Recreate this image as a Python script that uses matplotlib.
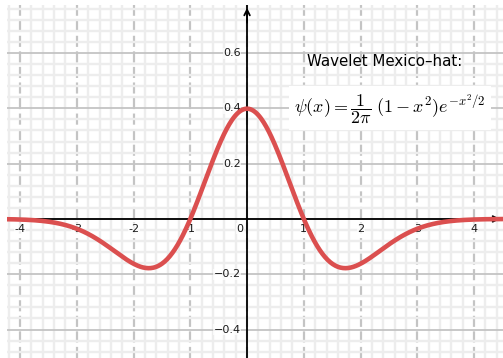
import numpy as np
import matplotlib
matplotlib.use("Agg")
import matplotlib.pyplot as plt
from matplotlib.ticker import MultipleLocator

plt.rcParams["mathtext.fontset"] = "cm"

# Mexican-hat wavelet, normalised so the peak sits at 1/sqrt(2*pi)
amplitude = 1.0 / np.sqrt(2 * np.pi)
x = np.linspace(-4.4, 4.7, 600)
psi = amplitude * (1 - x**2) * np.exp(-x**2 / 2)

x_ticks = [-4, -3, -2, -1, 0, 1, 2, 3, 4]
y_ticks = [-0.4, -0.2, 0.2, 0.4, 0.6]

fig = plt.figure(figsize=(5.03, 3.58), dpi=100)
ax = fig.add_axes([7 / 503, 0, 496 / 503, 353 / 358])
ax.set_xlim(-4.23, 4.51)
ax.set_ylim(-0.503, 0.774)

# grid: light minor lines, dashed vertical majors, solid horizontal majors
ax.xaxis.set_major_locator(MultipleLocator(1))
ax.xaxis.set_minor_locator(MultipleLocator(0.2))
ax.yaxis.set_major_locator(MultipleLocator(0.2))
ax.yaxis.set_minor_locator(MultipleLocator(0.04))
ax.grid(which="minor", color="#ededed", linewidth=1.7, zorder=0)
ax.grid(which="major", axis="x", color="#c4c4c4", linewidth=1.6,
        linestyle=(0, (5, 2)), zorder=1)
ax.grid(which="major", axis="y", color="#c4c4c4", linewidth=1.3, zorder=1)
ax.tick_params(which="both", length=0, labelbottom=False, labelleft=False)
for s in ax.spines.values():
    s.set_visible(False)
ax.set_axisbelow(True)

# coordinate axes through the origin
ax.axhline(0, color="black", linewidth=1.3, zorder=2)
ax.axvline(0, color="black", linewidth=1.3, zorder=2)
ax.annotate("", xy=(0, 0.774), xytext=(0, 0.70),
            arrowprops=dict(arrowstyle="->", color="black", lw=1.3,
                            mutation_scale=10), zorder=3)
ax.annotate("", xy=(4.51, 0), xytext=(4.40, 0),
            arrowprops=dict(arrowstyle="->", color="black", lw=1.3,
                            mutation_scale=10), zorder=3)

# tick labels next to the axes
for t in x_ticks:
    dx = -0.12 if t == 0 else 0.0
    ax.text(t + dx, -0.018, f"{t}",
            ha="center", va="top", fontsize=8, color="#1a1a1a", zorder=3,
            bbox=dict(facecolor="white", edgecolor="none", pad=0.3, alpha=0.7))
for t in y_ticks:
    ax.text(-0.11, t, f"{t:.1f}".replace("-", "\u2212"),
            ha="right", va="center", fontsize=8, color="#1a1a1a", zorder=3,
            bbox=dict(facecolor="white", edgecolor="none", pad=0.3, alpha=0.7))

ax.plot(x, psi, color="#db4f4f", linewidth=3.3, solid_capstyle="round", zorder=4)

# title and formula
ax.text(2.42, 0.570, "Wavelet Mexico\u2013hat:", ha="center", va="center",
        fontsize=10.8, color="black", zorder=5)
ax.text(2.52, 0.40, r"$\psi(x) = \dfrac{1}{2\pi}\;(1-x^2)e^{-x^2/2}$",
        ha="center", va="center", fontsize=13, color="black", zorder=5,
        bbox=dict(facecolor="white", edgecolor="none", pad=4))

fig.savefig("out.png", dpi=100, facecolor="white")
